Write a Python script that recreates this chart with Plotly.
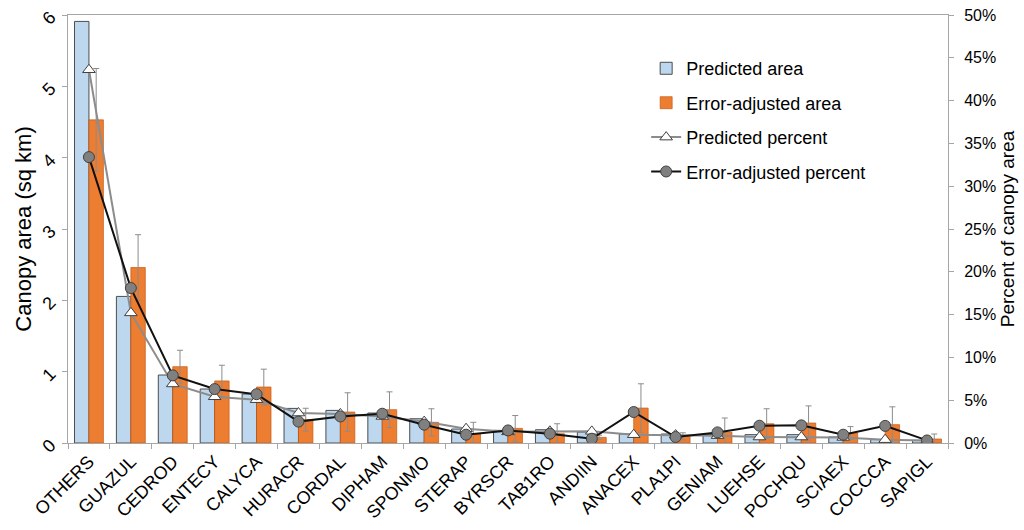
import plotly.graph_objects as go

categories = ["OTHERS", "GUAZUL", "CEDROD", "ENTECY", "CALYCA", "HURACR", "CORDAL",
              "DIPHAM", "SPONMO", "STERAP", "BYRSCR", "TAB1RO", "ANDIIN", "ANACEX",
              "PLA1PI", "GENIAM", "LUEHSE", "POCHQU", "SCIAEX", "COCCCA", "SAPIGL"]

predicted_area = [5.91, 2.055, 0.953, 0.757, 0.687, 0.485, 0.457, 0.42, 0.34, 0.196, 0.177,
                  0.186, 0.154, 0.126, 0.126, 0.117, 0.117, 0.117, 0.084, 0.047, 0.037]
adjusted_area = [4.53, 2.46, 1.07, 0.87, 0.785, 0.327, 0.434, 0.467, 0.29, 0.13, 0.205,
                 0.13, 0.079, 0.49, 0.093, 0.15, 0.27, 0.28, 0.14, 0.257, 0.056]
adjusted_err = [0.72, 0.46, 0.23, 0.22, 0.25, 0.16, 0.27, 0.25, 0.19, 0.16, 0.18,
                0.14, 0.03, 0.34, 0.05, 0.2, 0.21, 0.24, 0.09, 0.25, 0.07]
predicted_pct = [0.436, 0.152, 0.069, 0.054, 0.0506, 0.035, 0.034, 0.031, 0.025, 0.0167,
                 0.013, 0.0137, 0.0136, 0.0097, 0.0093, 0.0086, 0.007, 0.007, 0.0065, 0.0039, 0.0028]
adjusted_pct = [0.334, 0.181, 0.079, 0.063, 0.057, 0.025, 0.031, 0.0342, 0.0214, 0.0097,
                0.0147, 0.0109, 0.005, 0.0362, 0.007, 0.0124, 0.0202, 0.0206, 0.0097, 0.020, 0.003]

y_ticks = [0, 1, 2, 3, 4, 5, 6]
pct_ticks = [i * 0.05 for i in range(11)]

FONT = "Liberation Sans, Arial, sans-serif"
AXIS_COL = "#a6a6a6"

fig = go.Figure()
fig.add_trace(go.Bar(
    x=categories, y=predicted_area, name="Predicted area",
    marker=dict(color="#bdd7ee", line=dict(color="#4d4d4d", width=1)),
    legendgroup="a",
))
fig.add_trace(go.Bar(
    x=categories, y=adjusted_area, name="Error-adjusted area",
    marker=dict(color="#ed7d31", line=dict(color="#c55a11", width=0.7)),
    error_y=dict(type="data", array=adjusted_err, color="#8c8c8c", thickness=1, width=3),
    legendgroup="b",
))
fig.add_trace(go.Scatter(
    x=categories, y=predicted_pct, name="Predicted percent", yaxis="y2",
    mode="lines+markers",
    line=dict(color="#8c8c8c", width=2),
    marker=dict(symbol="triangle-up", size=11, color="white", line=dict(color="#404040", width=1)),
    legendgroup="c",
))
fig.add_trace(go.Scatter(
    x=categories, y=adjusted_pct, name="Error-adjusted percent", yaxis="y2",
    mode="lines+markers",
    line=dict(color="#111111", width=2),
    marker=dict(symbol="circle", size=11, color="#808080", line=dict(color="#404040", width=1)),
    legendgroup="d",
))

fig.update_layout(
    width=1024, height=530,
    margin=dict(l=68, r=76, t=15, b=87, autoexpand=False),
    paper_bgcolor="white", plot_bgcolor="white",
    font=dict(family=FONT, size=16, color="#000000"),
    barmode="group", bargap=0.31, bargroupgap=0,
    showlegend=True,
    legend=dict(x=0.657, y=0.918, xanchor="left", yanchor="top",
                bgcolor="rgba(0,0,0,0)", font=dict(size=18, family=FONT),
                tracegroupgap=8),
    xaxis=dict(
        range=[-0.5, len(categories) - 0.5],
        tickangle=-45, tickson="boundaries", ticks="outside", ticklen=5,
        tickcolor=AXIS_COL, showline=True, linecolor=AXIS_COL, linewidth=1,
        mirror=True, showgrid=False, tickfont=dict(size=18), automargin=False,
    ),
    yaxis=dict(
        range=[0, 6], tickvals=y_ticks, tickangle=-45,
        ticks="outside", ticklen=5, tickcolor=AXIS_COL, ticklabelstandoff=8,
        showline=True, linecolor=AXIS_COL, linewidth=1, showgrid=False, zeroline=False,
        title=dict(text="Canopy area (sq km)", font=dict(size=22), standoff=0),
        tickfont=dict(size=18), automargin=False,
    ),
    yaxis2=dict(
        range=[0, 0.5], tickvals=pct_ticks, tickformat=".0%", overlaying="y", side="right",
        ticks="outside", ticklen=5, tickcolor=AXIS_COL, ticklabelstandoff=7,
        showline=True, linecolor=AXIS_COL, linewidth=1, showgrid=False, zeroline=False,
        title=dict(text="Percent of canopy area", font=dict(size=19), standoff=5),
        tickfont=dict(size=16), automargin=False,
    ),
)

fig.write_html("out.html", config={"displayModeBar": False},
               post_script="document.body.style.margin='0px';")
